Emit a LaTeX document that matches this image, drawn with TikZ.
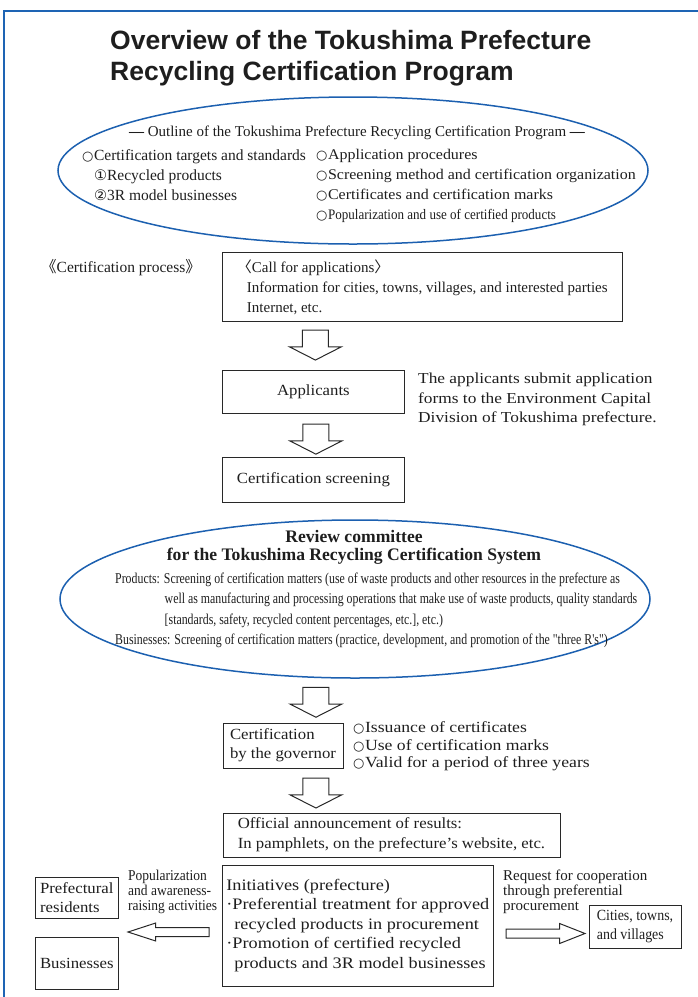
\documentclass[tikz,border=0pt]{standalone}
\usepackage{fontspec}
\setmainfont{Liberation Serif}[FakeStretch=1.08]
\newfontfamily\plainfont{Liberation Serif}
\newfontfamily\narrowfont{Liberation Serif}[FakeStretch=0.9]
\newfontfamily\tightfont{Liberation Serif}[FakeStretch=0.79]
\newfontfamily\widefont{Liberation Serif}[FakeStretch=1.14]
\newfontfamily\titlefont{Liberation Sans}
\newfontfamily\glyphfont{DejaVu Sans}
\newfontfamily\cjkfont{Noto Sans CJK JP}
\usetikzlibrary{shapes.geometric, shapes.arrows, positioning}

\definecolor{frameblue}{RGB}{30,100,180}
\definecolor{ringblue}{RGB}{28,96,176}
\definecolor{boxgray}{RGB}{40,40,40}
\definecolor{ink}{RGB}{30,30,30}

\newcommand\bul{{\glyphfont\fontsize{13}{13}\selectfont ○}\hspace{0.5pt}}
\newcommand\cnum[1]{{\glyphfont\fontsize{14.5}{14.5}\selectfont #1}}
\newcommand\jb[1]{{\cjkfont #1}}

\begin{document}
\begin{tikzpicture}[x=1pt, y=-1pt, font=\fontsize{15.5}{20}\selectfont, text=ink,
    procbox/.style={draw=boxgray, line width=1pt, inner sep=0pt, align=left},
    ring/.style={ellipse, draw=ringblue, line width=1.5pt, inner sep=0pt},
    txt/.style={inner sep=0pt, align=left},
    downarr/.style={single arrow, draw=boxgray, fill=white, line width=1pt, rotate=-90,
      inner xsep=0pt, inner ysep=12.5pt, single arrow head extend=13pt,
      single arrow tip angle=126, minimum height=30pt, anchor=tail},
    sidearr/.style={single arrow, draw=boxgray, fill=white, line width=1pt,
      inner xsep=0pt, inner ysep=4pt, anchor=tail}]
    \useasboundingbox (0,0) rectangle (698,997);
    \draw[frameblue, line width=1.6pt] (4,1000) -- (4,11) -- (700,11);

    \node[txt, anchor=north west, text=ink, font=\titlefont\bfseries\fontsize{26.5}{31}\selectfont] (title) at (110,30)
      {Overview of the Tokushima Prefecture\\Recycling Certification Program};

    \node[ring, minimum width=590pt, minimum height=147pt] (outline) at (353,170.5) {};
    \node[txt, anchor=base, font=\plainfont\fontsize{15}{18}\selectfont] (outhead) at (357,136)
      {{\bfseries —} Outline of the Tokushima Prefecture Recycling Certification Program {\bfseries —}};
    \node[txt, anchor=north west, font=\plainfont\fontsize{15.5}{19.8}\selectfont] (targets) at (82,149.5)
      {\bul Certification targets and standards\\
       \phantom{\bul}\cnum{①}Recycled products\\
       \phantom{\bul}\cnum{②}3R model businesses};
    \node[txt, anchor=north west, font=\fontsize{14.8}{19.8}\selectfont] (procs) at (316,149.5)
      {\bul Application procedures\\
       \bul Screening method and certification organization\\
       \bul Certificates and certification marks\\
       {\narrowfont\fontsize{14.5}{19.8}\selectfont\bul Popularization and use of certified products}};

    \node[txt, anchor=base west, font=\plainfont\fontsize{15.5}{20}\selectfont] (process) at (41,272)
      {\jb{《}Certification process\jb{》}};
    \node[procbox, minimum width=399.4pt, minimum height=68.3pt, font=\plainfont\fontsize{15}{20}\selectfont] (call) at (422.3,286.9)
      {\jb{〈}Call for applications\jb{〉}\\
       \hspace*{10pt}Information for cities, towns, villages, and interested parties\\
       \hspace*{10pt}Internet, etc.};
    \path (call.south -| 313.4,0) ++(2,8) node[downarr] (arr1) {};

    \node[procbox, minimum width=181.4pt, minimum height=42.3pt] (appl) at (313.4,392) {Applicants};
    \node[txt, anchor=north west, font=\widefont\fontsize{15.2}{19.5}\selectfont] (submit) at (418,373)
      {The applicants submit application\\forms to the Environment Capital\\Division of Tokushima prefecture.};
    \path (appl.south) ++(2.5,10) node[downarr] (arr2) {};

    \node[procbox, minimum width=181.4pt, minimum height=45pt] (screen) at (313.4,479.5) {Certification screening};

    \node[ring, minimum width=590pt, minimum height=158pt] (review) at (355,599) {};
    \node[txt, anchor=north, align=center, font=\plainfont\bfseries\fontsize{17.6}{18}\selectfont] (committee) at (354,530)
      {Review committee\\for the Tokushima Recycling Certification System};
    \node[txt, anchor=north west, font=\tightfont\fontsize{15}{20.5}\selectfont] (matters) at (115,572.5)
      {Products: Screening of certification matters (use of waste products and other resources in the prefecture as\\
       \hspace*{49.5pt}well as manufacturing and processing operations that make use of waste products, quality standards\\
       \hspace*{49.5pt}[standards, safety, recycled content percentages, etc.], etc.)\\
       Businesses: Screening of certification matters (practice, development, and promotion of the "three R's")};
    \path (review.south -| appl.north) ++(2.5,8) node[downarr] (arr3) {};

    \node[procbox, minimum width=120pt, minimum height=45pt, font=\fontsize{15.5}{19}\selectfont] (gov) at (283,745.5)
      {Certification\\by the governor};
    \node[txt, anchor=north west, font=\widefont\fontsize{15.5}{17.5}\selectfont] (issue) at (353,721.5)
      {\bul Issuance of certificates\\
       \bul Use of certification marks\\
       \bul Valid for a period of three years};
    \path (gov.south -| appl.north) ++(2.5,9) node[downarr] (arr4) {};

    \node[procbox, minimum width=337pt, minimum height=44pt] (announce) at (391.5,835)
      {Official announcement of results:\\In pamphlets, on the prefecture's website, etc.};

    \node[procbox, minimum width=270.4pt, minimum height=121pt, font=\widefont\fontsize{16}{19.5}\selectfont] (init) at (357.8,925.5)
      {Initiatives (prefecture)\\
       ·Preferential treatment for approved\\
       \hspace*{8pt}recycled products in procurement\\
       ·Promotion of certified recycled\\
       \hspace*{8pt}products and 3R model businesses};

    \node[procbox, minimum width=82.4pt, minimum height=41pt, font=\fontsize{15.5}{19}\selectfont] (residents) at (76.8,897.5)
      {Prefectural\\residents};
    \node[procbox, minimum width=82.4pt, minimum height=52pt] (business) at (76.8,963) {Businesses};
    \node[txt, anchor=north west, font=\narrowfont\fontsize{15}{15}\selectfont] (popul) at (128,869.5)
      {Popularization\\and awareness-\\raising activities};
    \path (init.west) ++(-12.6,6.5) node[sidearr, rotate=180, minimum height=81pt,
      single arrow head extend=4.5pt, single arrow tip angle=36] (leftarr) {};

    \node[txt, anchor=north west, font=\plainfont\fontsize{15}{15}\selectfont] (request) at (503,869.5)
      {Request for cooperation\\through preferential\\procurement};
    \node[procbox, minimum width=92pt, minimum height=43pt, font=\narrowfont\fontsize{15.5}{19}\selectfont] (cities) at (635,926.5)
      {Cities, towns,\\and villages};
    \path (init.east) ++(12,8) node[sidearr, minimum height=79pt,
      single arrow head extend=5.5pt, single arrow tip angle=43] (rightarr) {};
\end{tikzpicture}
\end{document}
